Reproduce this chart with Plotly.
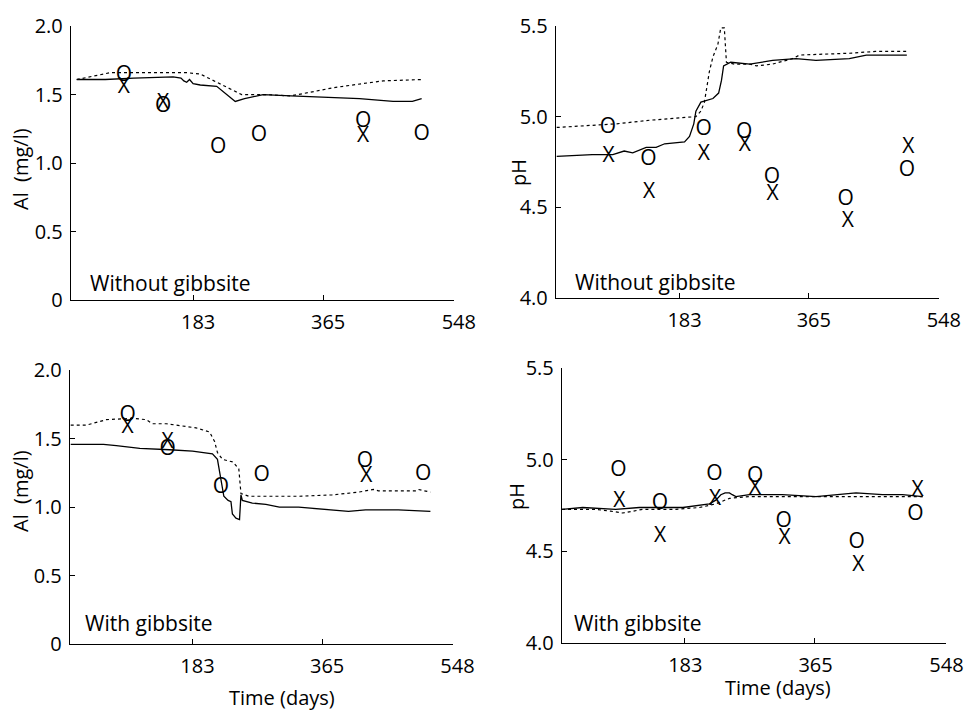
import plotly.graph_objects as go

# ---------------- data ----------------
# Panel A: Al, without gibbsite
a_o_day = [86, 141, 218, 275, 421, 503]
a_o_val = [1.64, 1.41, 1.11, 1.20, 1.30, 1.21]
a_x_day = [86, 141, 421]
a_x_val = [1.55, 1.43, 1.19]
a_solid_day = [20, 60, 100, 155, 166, 170, 174, 178, 183, 193, 216, 230, 242, 255, 281, 320, 360, 416, 463, 490, 503]
a_solid_val = [1.61, 1.61, 1.62, 1.63, 1.62, 1.60, 1.59, 1.61, 1.58, 1.57, 1.56, 1.50, 1.45, 1.47, 1.50, 1.49, 1.48, 1.47, 1.45, 1.45, 1.47]
a_dot_day = [20, 67, 120, 174, 193, 216, 239, 251, 285, 319, 350, 379, 420, 449, 503]
a_dot_val = [1.61, 1.66, 1.66, 1.66, 1.65, 1.59, 1.53, 1.50, 1.50, 1.49, 1.52, 1.55, 1.58, 1.60, 1.61]

# Panel B: pH, without gibbsite
b_o_day = [82, 139, 217, 274, 313, 417, 503]
b_o_val = [4.94, 4.76, 4.93, 4.91, 4.66, 4.54, 4.70]
b_x_day = [83, 140, 217, 275, 314, 420, 505]
b_x_val = [4.78, 4.58, 4.79, 4.84, 4.57, 4.42, 4.83]
b_solid_day = [10, 60, 89, 99, 105, 117, 136, 150, 162, 190, 197, 203, 206, 213, 220, 230, 238, 242, 245, 255, 282, 314, 347, 375, 422, 446, 503]
b_solid_val = [4.78, 4.79, 4.79, 4.80, 4.81, 4.80, 4.83, 4.83, 4.85, 4.86, 4.89, 4.96, 5.03, 5.08, 5.09, 5.10, 5.13, 5.20, 5.28, 5.30, 5.29, 5.31, 5.32, 5.31, 5.32, 5.34, 5.34]
b_dot_day = [10, 94, 141, 206, 213, 218, 225, 230, 237, 241, 246, 249, 260, 282, 291, 314, 342, 352, 422, 459, 504]
b_dot_val = [4.94, 4.96, 4.98, 5.00, 5.03, 5.08, 5.25, 5.33, 5.40, 5.49, 5.49, 5.30, 5.29, 5.29, 5.28, 5.29, 5.32, 5.34, 5.35, 5.36, 5.36]

# Panel C: Al, with gibbsite
c_o_day = [92, 148, 223, 280, 425, 507]
c_o_val = [1.67, 1.42, 1.14, 1.23, 1.33, 1.24]
c_x_day = [92, 148, 427]
c_x_val = [1.58, 1.47, 1.22]
c_solid_day = [12, 58, 76, 109, 151, 183, 211, 218, 223, 227, 233, 237, 239, 244, 249, 251, 253, 267, 286, 305, 332, 360, 402, 426, 472, 517]
c_solid_val = [1.46, 1.46, 1.45, 1.43, 1.42, 1.41, 1.39, 1.35, 1.20, 1.08, 1.05, 1.04, 0.95, 0.92, 0.91, 1.09, 1.05, 1.03, 1.02, 1.00, 1.00, 0.99, 0.97, 0.98, 0.98, 0.97]
c_dot_day = [12, 34, 62, 99, 118, 127, 146, 188, 207, 214, 218, 225, 240, 248, 251, 256, 262, 332, 379, 416, 437, 444, 496, 500, 517]
c_dot_val = [1.60, 1.60, 1.64, 1.65, 1.64, 1.61, 1.61, 1.58, 1.55, 1.48, 1.40, 1.35, 1.33, 1.28, 1.10, 1.09, 1.08, 1.08, 1.09, 1.11, 1.13, 1.12, 1.12, 1.13, 1.11]

# Panel D: pH, with gibbsite
d_o_day = [91, 149, 225, 282, 322, 424, 506]
d_o_val = [4.94, 4.76, 4.92, 4.91, 4.66, 4.55, 4.70]
d_x_day = [92, 149, 226, 282, 323, 426, 509]
d_x_val = [4.77, 4.58, 4.78, 4.84, 4.57, 4.42, 4.83]
d_solid_day = [12, 41, 87, 120, 181, 218, 227, 234, 240, 246, 250, 255, 274, 320, 367, 395, 423, 460, 488, 516]
d_solid_val = [4.73, 4.74, 4.73, 4.74, 4.74, 4.76, 4.78, 4.81, 4.82, 4.82, 4.81, 4.80, 4.81, 4.81, 4.80, 4.81, 4.82, 4.81, 4.81, 4.80]
d_dot_day = [12, 59, 80, 97, 125, 171, 204, 227, 246, 274, 320, 367, 516]
d_dot_val = [4.73, 4.73, 4.72, 4.71, 4.73, 4.73, 4.74, 4.76, 4.79, 4.80, 4.80, 4.80, 4.80]

x_ticks = [183, 365, 548]
al_ticks = [0, 0.5, 1.0, 1.5, 2.0]
al_ticktext = ["0", "0.5", "1.0", "1.5", "2.0"]
ph_ticks = [4.0, 4.5, 5.0, 5.5]
ph_ticktext = ["4.0", "4.5", "5.0", "5.5"]

# ---------------- layout helpers ----------------
W, H = 966, 711
FONT = "Open Sans"


def px_x(p):
    return p / W


def px_y(p):
    return 1 - p / H


panels = [
    dict(box=(71, 454, 25.7, 300), xr=[12, 548.3], yr=[0, 2.003], yt=al_ticks, ytt=al_ticktext, shift=5,
         o=(a_o_day, a_o_val), x=(a_x_day, a_x_val), s=(a_solid_day, a_solid_val), d=(a_dot_day, a_dot_val)),
    dict(box=(556, 939, 25.7, 297.7), xr=[9, 548.3], yr=[4.0, 5.502], yt=ph_ticks, ytt=ph_ticktext, shift=5,
         o=(b_o_day, b_o_val), x=(b_x_day, b_x_val), s=(b_solid_day, b_solid_val), d=(b_dot_day, b_dot_val)),
    dict(box=(70, 452.7, 370, 644), xr=[11, 548.3], yr=[0, 2.003], yt=al_ticks, ytt=al_ticktext, shift=5,
         o=(c_o_day, c_o_val), x=(c_x_day, c_x_val), s=(c_solid_day, c_solid_val), d=(c_dot_day, c_dot_val)),
    dict(box=(562, 945.7, 368, 643), xr=[12, 548.3], yr=[4.0, 5.502], yt=ph_ticks, ytt=ph_ticktext, shift=1,
         o=(d_o_day, d_o_val), x=(d_x_day, d_x_val), s=(d_solid_day, d_solid_val), d=(d_dot_day, d_dot_val)),
]

fig = go.Figure()
layout = dict(
    template="none",
    width=W, height=H, autosize=False,
    margin=dict(l=0, r=0, t=0, b=0, pad=0),
    paper_bgcolor="white", plot_bgcolor="white",
    showlegend=False,
    font=dict(family=FONT, color="black"),
)

for i, p in enumerate(panels, start=1):
    xl, xr_, yt, yb = p["box"]
    xa = "xaxis" if i == 1 else f"xaxis{i}"
    ya = "yaxis" if i == 1 else f"yaxis{i}"
    xref = "x" if i == 1 else f"x{i}"
    yref = "y" if i == 1 else f"y{i}"
    layout[xa] = dict(
        domain=[px_x(xl), px_x(xr_)], range=p["xr"], anchor=yref,
        automargin=False, ticklabeloverflow="allow",
        tickvals=x_ticks, ticktext=[str(v) for v in x_ticks],
        ticks="inside", ticklen=5, tickwidth=1.2, tickcolor="black",
        showline=True, linecolor="black", linewidth=1.4,
        showgrid=False, zeroline=False, mirror=False,
        tickfont=dict(family=FONT, size=20, color="black"),
        ticklabelstandoff=4, ticklabelshift=p["shift"],
    )
    layout[ya] = dict(
        domain=[px_y(yb), px_y(yt)], range=p["yr"], anchor=xref,
        automargin=False, ticklabeloverflow="allow",
        tickvals=p["yt"], ticktext=p["ytt"],
        ticks="inside", ticklen=5, tickwidth=1.2, tickcolor="black",
        showline=True, linecolor="black", linewidth=1.4,
        showgrid=False, zeroline=False, mirror=False,
        tickfont=dict(family=FONT, size=20, color="black"),
        ticklabelstandoff=3,
    )
    fig.add_trace(go.Scatter(x=p["d"][0], y=p["d"][1], mode="lines",
                             line=dict(color="black", width=1.2, dash="dot"),
                             xaxis=xref, yaxis=yref, hoverinfo="skip"))
    fig.add_trace(go.Scatter(x=p["s"][0], y=p["s"][1], mode="lines",
                             line=dict(color="black", width=1.3),
                             xaxis=xref, yaxis=yref, hoverinfo="skip"))
    fig.add_trace(go.Scatter(x=p["o"][0], y=p["o"][1], mode="text",
                             text=["O"] * len(p["o"][0]), textposition="middle center",
                             textfont=dict(family=FONT, size=21, color="black"),
                             cliponaxis=False, xaxis=xref, yaxis=yref))
    fig.add_trace(go.Scatter(x=p["x"][0], y=p["x"][1], mode="text",
                             text=["X"] * len(p["x"][0]), textposition="middle center",
                             textfont=dict(family=FONT, size=21, color="black"),
                             cliponaxis=False, xaxis=xref, yaxis=yref))

fig.update_layout(**layout)

annots = [
    ("Without gibbsite", 88, 283, "left", 0, 21),
    ("Without gibbsite", 573, 282, "left", 0, 21),
    ("With gibbsite", 83, 623, "left", 0, 21),
    ("With gibbsite", 572, 623, "left", 0, 21),
    ("Al  (mg/l)", 20, 169, "center", -90, 20),
    ("pH", 518, 173, "center", -90, 20),
    ("Al  (mg/l)", 20, 491, "center", -90, 20),
    ("pH", 516, 497, "center", -90, 20),
    ("Time (days)", 282, 697, "center", 0, 20),
    ("Time (days)", 778, 687, "center", 0, 20),
]
for text, x, y, xanchor, ang, fs in annots:
    fig.add_annotation(text=text, x=px_x(x), y=px_y(y), xref="paper", yref="paper",
                       xanchor=xanchor, yanchor="middle", showarrow=False, textangle=ang,
                       font=dict(family=FONT, size=fs, color="black"))

fig.write_html("out.html",
               config={"displayModeBar": False},
               post_script="document.body.style.margin='0px';document.body.style.overflow='hidden';")
